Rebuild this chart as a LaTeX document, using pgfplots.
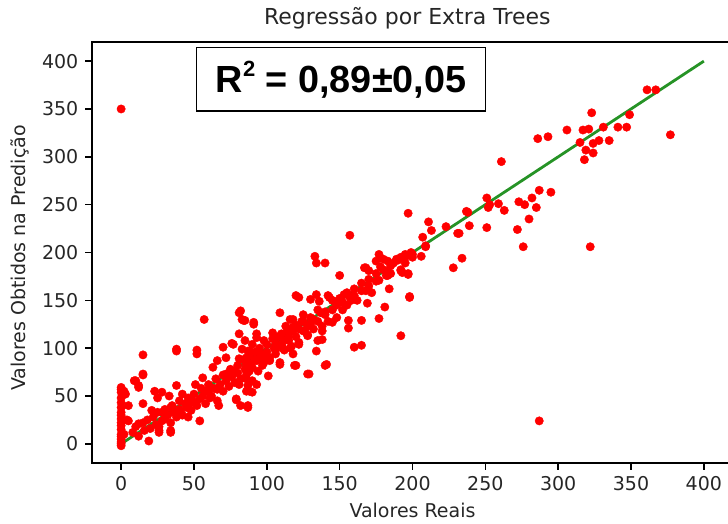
\documentclass[border=0pt]{standalone}
\usepackage{pgfplots}
\pgfplotsset{compat=1.18}
\usepackage{fontspec}
\setmainfont{DejaVu Sans}
\newfontfamily\rfont{Liberation Sans}
\begin{document}
\begin{tikzpicture}
\begin{axis}[
 at={(0,0)}, anchor=south west,
 scale only axis, width=320.5pt, height=210.5pt,
 xmin=-20, xmax=420, ymin=-20, ymax=420,
 xtick={0,50,...,400}, ytick={0,50,...,400},
 tick align=outside, major tick length=3.3pt, tick pos=left,
 axis line style={line width=0.7pt},
 every tick/.style={black, line width=0.7pt},
 tick label style={font=\fontsize{9.5}{11}\selectfont, text=black!85},
 /pgf/number format/assume math mode=true,
 title={Regressão por Extra Trees},
 title style={at={(axis description cs:0.492,1.012)}, anchor=base, font=\fontsize{11}{13}\selectfont, text=black!85},
 xlabel={Valores Reais},
 xlabel style={at={(axis description cs:0.5,-0.1306)}, anchor=base, font=\fontsize{9.5}{11}\selectfont, text=black!85},
 ylabel={Valores Obtidos na Predição},
 ylabel style={at={(axis description cs:-0.103,0.487)}, anchor=base, font=\fontsize{9.5}{11}\selectfont, text=black!85},
]
\addplot[only marks, mark=*, mark size=2.1pt, color=red, mark options={draw=red, fill=red, line width=0.2pt}] coordinates {
(361,370)(367,370)(323,346)(349,344)(306,328)(317,328)(321,329)(331,331)(341,331)(347,331)
(377,323)(286,319)(293,321)(315,315)(324,314)(328,317)(335,317)(319,307)(324,304)(318,297)
(261,295)(251,257)(252,247)(253,250)(259,251)(263,244)(273,253)(277,250)(282,257)(287,265)
(295,263)(285,247)(280,235)(272,224)(276,206)(322,206)(251,226)(239,228)(237,243)(232,220)
(234,194)(287,24)(192,113)(198,154)(197,178)(192,182)(206,196)(209,206)(228,184)(195,195)
(197,241)(211,232)(213,223)(207,216)(209,207)(223,227)(231,220)(238,242)
(157,218)(150,176)(177,198)(180,193)(183,191)(187,189)(189,193)(192,195)(195,198)(195,189)
(175,191)(168,184)(170,181)(177,171)(183,176)(192,181)(197,177)(184,162)(198,153)(153,156)
(157,153)(143,153)(169,147)(181,143)(177,131)(165,129)(156,129)(145,127)(156,121)(160,101)
(165,103)(133,196)(140,189)(134,189)(167,184)(193,179)(182,176)(141,83)(128,73)(120,155)
(134,156)(142,155)(109,137)(118,130)(81,137)(85,129)(57,130)(38,97)(52,94)(15,93)
(15,72)(10,66)(12,59)(19,3)(26,12)(34,12)(54,24)(87,38)(79,46)(67,40)(120,82)(109,83)(101,71)
(122,153)(130,151)(136,149)(116,130)(125,135)(137,137)(138,123)(128,123)(122,120)(113,123)
(104,116)(91,125)(83,130)(82,139)(93,115)(98,108)(106,104)(111,100)(117,102)(122,104)
(128,113)(135,108)(138,109)(134,97)(118,94)(109,85)(119,82)(129,73)(140,82)(98,90)
(95,95)(86,90)(88,97)(83,99)(102,87)(88,76)(86,68)(90,66)(97,82)(93,87)(87,61)(86,55)
(90,54)(87,40)(82,40)(81,115)(85,108)(81,89)(84,129)(91,127)(76,105)(70,101)(38,99)(52,98)
(0,59)(0,54)(0,48)(0,43)(0,38)(0,33)(0,26)(0,19)(0,15)(0,10)(0,5)(0,0)(0,-2)(0,57)(0,2)(0,8)
(0,22)(0,30)(3,52)(5,40)(5,24)(2,10)(0,350)
(15,73)(9,66)(12,61)(2,55)(23,55)(15,42)(4,25)(12,21)(26,14)(34,14)(21,35)(25,48)(28,54)
(33,50)(38,61)(42,52)(34,38)(28,33)(41,33)(47,42)(46,28)(51,62)(56,69)(63,80)(66,87)
(77,104)(72,90)(58,55)(61,48)(66,57)(79,47)(88,55)(93,62)(81,62)(72,73)(77,76)(86,83)
(87,97)(90,104)(93,111)
(8,12)(10,18)(12,8)(15,22)(16,14)(18,25)(20,16)(22,28)(24,20)(25,33)(26,18)(28,24)(30,36)
(30,26)(32,30)(34,22)(35,40)(36,33)(38,28)(40,45)(40,36)(42,30)(44,42)(45,38)(46,48)(48,35)
(50,44)(50,52)(52,40)(54,47)(55,58)(56,50)(58,42)(60,55)(60,62)(62,50)(64,58)(65,68)(66,45)
(68,62)(70,72)(70,55)(72,66)(74,60)(75,78)(76,70)(78,64)(80,82)(80,74)(82,68)(84,88)(85,78)
(86,72)(88,92)(88,84)(90,80)(92,96)(92,88)(94,76)(95,100)(96,92)(98,85)(100,104)(100,96)
(102,90)(104,110)(105,100)(106,94)(108,112)(110,104)(112,98)(114,118)(115,108)(116,100)
(118,122)(120,112)(122,106)(124,128)(125,118)(128,114)(130,125)(130,132)(132,120)(135,128)
(138,118)(140,135)(142,128)(145,140)(148,132)(150,148)(152,140)(155,145)(158,150)(160,155)
(165,160)(170,165)(175,170)(178,185)(182,180)(185,178)
(105,110)(110,115)(115,112)(120,124)(125,128)(135,140)(140,138)(145,150)(150,152)(155,158)
(160,162)(165,168)(170,172)(175,178)(180,182)(185,186)(190,192)(200,198)(148,145)(152,148)
(162,150)(168,160)(172,158)(118,118)(112,108)(106,98)(126,118)(132,130)(199,200)(200,195)
};
\addplot[green!50!black, opacity=0.85, line width=1.4pt] coordinates {(0,0)(400,400)};
\draw[line width=0.6pt, fill=white] (axis cs:52,414.6) rectangle (axis cs:250,347.8);
\node at (axis cs:151,381) {\rfont\bfseries\fontsize{18.9}{20}\selectfont R\raisebox{0.42em}{\fontsize{11}{11}\selectfont 2} = 0,89±0,05};
\end{axis}
\pgfresetboundingbox
\path (-46pt,-30.5pt) rectangle (318pt,231.5pt);
\end{tikzpicture}
\end{document}
